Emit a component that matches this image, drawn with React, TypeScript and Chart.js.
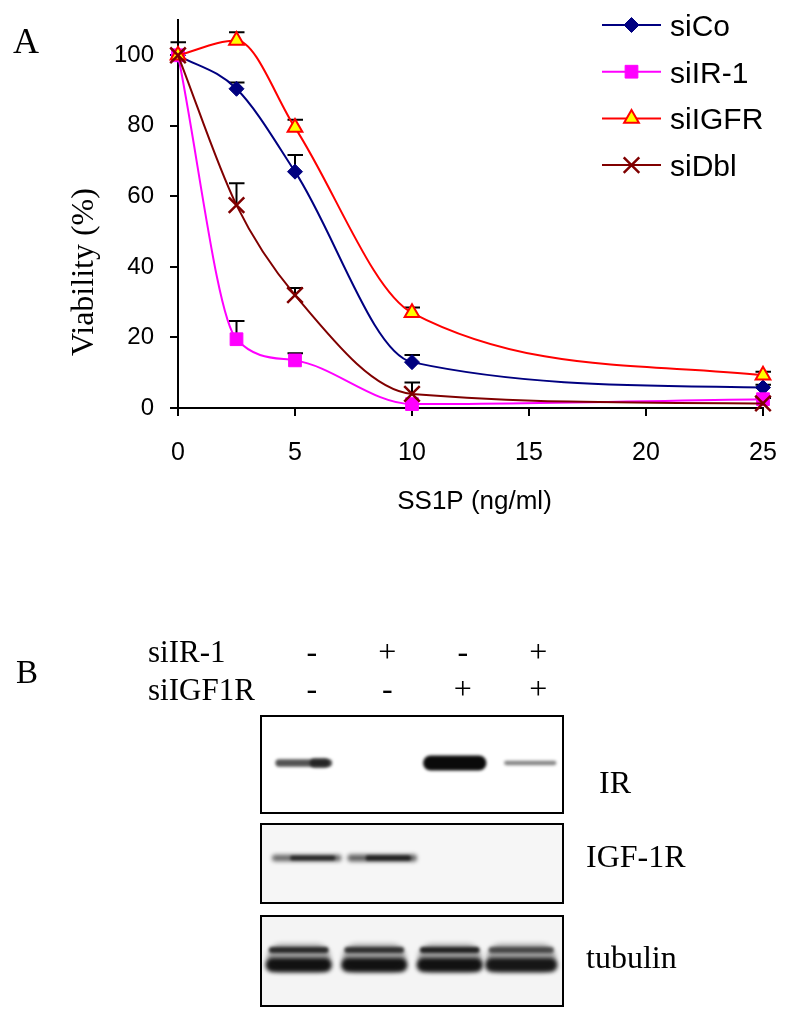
import React, { useEffect, useRef } from 'react';
import { Chart, registerables } from 'chart.js';
import { drawPoint } from 'chart.js/helpers';

Chart.register(...registerables);

// ---------- Panel A data ----------
const doses = [0, 2.5, 5, 10, 25];
const seriesNames = ['siCo', 'siIR-1', 'siIGFR', 'siDbl'];
const siCo = [100, 90.5, 67, 13, 5.8];
const siIR1 = [100, 19.5, 13.5, 1.1, 2.5];
const siIGFR = [100, 104.2, 79.5, 27, 9.3];
const siDbl = [100, 57.5, 32, 4, 1.3];
const siCoErr = [3.7, 1.8, 4.7, 2, 0.8];
const siIR1Err = [0, 5.2, 2, 0, 0.3];
const siIGFRErr = [0, 2.3, 2.2, 1.5, 1];
const siDblErr = [0, 6.2, 2, 3.2, 0];
const xTicks = [0, 5, 10, 15, 20, 25];
const yTicks = [0, 20, 40, 60, 80, 100];

// ---------- Panel B data ----------
const laneIndex = [0, 1, 2, 3];
const siIR1Row = ['-', '+', '-', '+'];
const siIGF1RRow = ['-', '-', '+', '+'];
const irBand = [0.6, 0, 1, 0.33];
const igf1rBand = [0.62, 0.68, 0, 0];
const tubulinUpper = [0.8, 0.75, 0.85, 0.6];
const tubulinLower = [0.95, 0.95, 0.95, 0.92];
const blotNames = ['IR', 'IGF-1R', 'tubulin'];

const SANS = '"Liberation Sans", Arial, sans-serif';
const SERIF = '"Liberation Serif", "Times New Roman", serif';

const styles = [
  { color: '#000080', pointStyle: 'rectRot', radius: 7.5, bg: '#000080', bw: 1, order: 3 },
  { color: '#FF00FF', pointStyle: 'rect', radius: 9, bg: '#FF00FF', bw: 1, order: 2 },
  { color: '#FF0000', pointStyle: 'triangle', radius: 8.5, bg: '#FFFF00', bw: 2, order: 1 },
  { color: '#800000', pointStyle: 'crossRot', radius: 11, bg: '#800000', bw: 2.5, order: 0 },
];
const seriesValues = [siCo, siIR1, siIGFR, siDbl];
const seriesErr = [siCoErr, siIR1Err, siIGFRErr, siDblErr];

const errorBarPlugin = {
  id: 'errorBars',
  beforeDatasetsDraw(chart: any) {
    const { ctx, scales } = chart;
    const x = scales.x, y = scales.y;
    ctx.save();
    ctx.strokeStyle = '#000';
    ctx.lineWidth = 2;
    seriesValues.forEach((vals, s) => {
      vals.forEach((v, i) => {
        const e = seriesErr[s][i];
        if (!e) return;
        const px = x.getPixelForValue(doses[i]);
        const py = y.getPixelForValue(v);
        const pt = y.getPixelForValue(v + e);
        ctx.beginPath();
        ctx.moveTo(px, py);
        ctx.lineTo(px, pt);
        ctx.moveTo(px - 7.5, pt);
        ctx.lineTo(px + 8, pt);
        ctx.stroke();
      });
    });
    ctx.restore();
  },
};

const decorPluginA = {
  id: 'decorA',
  afterDraw(chart: any) {
    const { ctx, chartArea } = chart;
    ctx.save();
    ctx.fillStyle = '#000';
    ctx.font = `36px ${SERIF}`;
    ctx.textAlign = 'left';
    ctx.textBaseline = 'alphabetic';
    ctx.fillText('A', 13, 53);
    ctx.save();
    ctx.translate(chartArea.left - 85, 272);
    ctx.rotate(-Math.PI / 2);
    ctx.font = `32px ${SERIF}`;
    ctx.textAlign = 'center';
    ctx.fillText('Viability (%)', 0, 0);
    ctx.restore();
    ctx.font = `26px ${SANS}`;
    ctx.textAlign = 'center';
    ctx.fillText('SS1P (ng/ml)', (chartArea.left + chartArea.right) / 2 + 4, chartArea.bottom + 101);
    const lx0 = 602, lx1 = 661, ly0 = 25, lstep = 46.7;
    seriesNames.forEach((name, i) => {
      const st = styles[i];
      const yy = ly0 + i * lstep;
      ctx.strokeStyle = st.color;
      ctx.lineWidth = 2;
      ctx.beginPath();
      ctx.moveTo(lx0, yy);
      ctx.lineTo(lx1, yy);
      ctx.stroke();
      ctx.fillStyle = st.bg;
      ctx.strokeStyle = st.color;
      ctx.lineWidth = st.bw;
      drawPoint(ctx, { pointStyle: st.pointStyle, radius: st.radius, rotation: 0, borderWidth: st.bw } as any, (lx0 + lx1) / 2, yy);
      ctx.fillStyle = '#000';
      ctx.font = `30px ${SANS}`;
      ctx.textAlign = 'left';
      ctx.textBaseline = 'alphabetic';
      ctx.fillText(name, 670, yy + 11);
    });
    ctx.restore();
  },
};

// ---------- Panel B drawing ----------
const BOXES = [
  { top: 0, h: 97, bg: '#ffffff' },
  { top: 108, h: 79, bg: '#f6f6f6' },
  { top: 200, h: 90, bg: '#f4f4f4' },
];

function band(ctx: any, cx: number, cy: number, w: number, t: number, a: number, blur: number) {
  ctx.save();
  ctx.filter = `blur(${blur}px)`;
  ctx.fillStyle = `rgba(10,10,10,${a})`;
  ctx.beginPath();
  const r = t / 2;
  ctx.moveTo(cx - w / 2 + r, cy - r);
  ctx.lineTo(cx + w / 2 - r, cy - r);
  ctx.arc(cx + w / 2 - r, cy, r, -Math.PI / 2, Math.PI / 2);
  ctx.lineTo(cx - w / 2 + r, cy + r);
  ctx.arc(cx - w / 2 + r, cy, r, Math.PI / 2, (3 * Math.PI) / 2);
  ctx.closePath();
  ctx.fill();
  ctx.restore();
}

const blotPlugin = {
  id: 'blot',
  afterDraw(chart: any) {
    const { ctx, chartArea, scales } = chart;
    const x = scales.x;
    const top = chartArea.top;
    const L = chartArea.left, R = chartArea.right;
    const laneW = x.getPixelForValue(1) - x.getPixelForValue(0);
    ctx.save();
    BOXES.forEach((b) => {
      ctx.fillStyle = b.bg;
      ctx.fillRect(L, top + b.top, R - L, b.h);
    });
    // IR bands
    laneIndex.forEach((li) => {
      const i = irBand[li];
      if (!i) return;
      const cx = x.getPixelForValue(li + 0.5) + 5;
      const t = 3 + 12 * i * i;
      const w = laneW * (0.62 + 0.22 * i);
      band(ctx, cx, top + 47, w, t, Math.min(1, 0.25 + 0.75 * i), 1.8);
      if (i < 0.9 && i > 0.5) band(ctx, cx + w * 0.28, top + 47, w * 0.35, t + 2, 0.65, 1.8);
    });
    // IGF-1R bands
    laneIndex.forEach((li) => {
      const i = igf1rBand[li];
      if (!i) return;
      const cx = x.getPixelForValue(li + 0.5) + 8;
      band(ctx, cx, top + 142, laneW * 0.92, 2 + 7 * i, 0.3 + 0.5 * i, 2);
      band(ctx, cx + 6, top + 142, laneW * 0.6, 1 + 6 * i, 0.45 + 0.5 * i, 1.8);
    });
    // tubulin bands
    laneIndex.forEach((li) => {
      const cx = x.getPixelForValue(li + 0.5) + (li === 3 ? -4 : 0);
      const w = laneW * 0.88 + (li === 3 ? 6 : 0);
      band(ctx, cx, top + 242, w * 0.95, 28, 0.35, 2.5);
      band(ctx, cx, top + 234, w * 0.9, 6, tubulinUpper[li], 1.8);
      band(ctx, cx, top + 249, w, 14, tubulinLower[li], 2.2);
    });
    ctx.strokeStyle = '#000';
    ctx.lineWidth = 2;
    BOXES.forEach((b) => {
      ctx.strokeRect(L, top + b.top, R - L, b.h);
    });
    ctx.fillStyle = '#000';
    ctx.textBaseline = 'alphabetic';
    ctx.textAlign = 'left';
    ctx.font = `33px ${SERIF}`;
    ctx.fillText('B', 16, top - 33);
    ctx.font = `31px ${SERIF}`;
    ctx.fillText('siIR-1', 148, top - 54);
    ctx.fillText('siIGF1R', 148, top - 16);
    ctx.textAlign = 'center';
    ctx.font = `32px ${SERIF}`;
    laneIndex.forEach((li) => {
      const cx = x.getPixelForValue(li + 0.5) + 13;
      ctx.fillText(siIR1Row[li], cx, top - 54);
      ctx.fillText(siIGF1RRow[li], cx, top - 17);
    });
    ctx.textAlign = 'left';
    ctx.fillText(blotNames[0], R + 36, top + 77);
    ctx.fillText(blotNames[1], R + 23, top + 151);
    ctx.fillText(blotNames[2], R + 23, top + 252);
    ctx.restore();
  },
};

function zeroPad(s: any) {
  s.paddingTop = 0;
  s.paddingBottom = 0;
  s.paddingLeft = 0;
  s.paddingRight = 0;
}

export default function App() {
  const refA = useRef<HTMLCanvasElement>(null);
  const refB = useRef<HTMLCanvasElement>(null);

  useEffect(() => {
    document.body.style.margin = '0';
    const datasets = seriesNames.map((name, s) => ({
      label: name,
      data: doses.map((d, i) => ({ x: d, y: seriesValues[s][i] })),
      borderColor: styles[s].color,
      borderWidth: 2,
      backgroundColor: styles[s].bg,
      pointStyle: styles[s].pointStyle,
      pointRadius: styles[s].radius,
      pointBackgroundColor: styles[s].bg,
      pointBorderColor: styles[s].color,
      pointBorderWidth: styles[s].bw,
      cubicInterpolationMode: 'monotone',
      fill: false,
      clip: false,
      order: styles[s].order,
    }));
    const chartA = new Chart(refA.current!, {
      type: 'line',
      data: { datasets } as any,
      plugins: [errorBarPlugin, decorPluginA],
      options: {
        animation: false,
        responsive: false,
        events: [],
        layout: { padding: { left: 0, right: 28, top: 20, bottom: 52 } },
        plugins: { legend: { display: false }, tooltip: { enabled: false } },
        scales: {
          x: {
            type: 'linear',
            min: 0,
            max: 25,
            afterBuildTicks: (s: any) => { s.ticks = xTicks.map((v) => ({ value: v })); },
            afterFit: (s: any) => { s.height = 100; zeroPad(s); },
            grid: { drawOnChartArea: false, drawTicks: true, tickLength: 8, color: '#000', lineWidth: 2 },
            border: { display: true, color: '#000', width: 2 },
            ticks: { color: '#000', font: { family: SANS, size: 25 }, padding: 22, maxRotation: 0 },
          },
          y: {
            type: 'linear',
            min: 0,
            max: 110,
            afterBuildTicks: (s: any) => { s.ticks = yTicks.map((v) => ({ value: v })); },
            afterFit: (s: any) => { s.width = 178; zeroPad(s); },
            grid: { drawOnChartArea: false, drawTicks: true, tickLength: 8, color: '#000', lineWidth: 2 },
            border: { display: true, color: '#000', width: 2 },
            ticks: { color: '#000', font: { family: SANS, size: 24 }, padding: 16 },
          },
        },
      } as any,
    });

    const chartB = new Chart(refB.current!, {
      type: 'scatter',
      data: { datasets: [{ data: [] }] },
      plugins: [blotPlugin],
      options: {
        animation: false,
        responsive: false,
        events: [],
        layout: { padding: { left: 261, right: 228, top: 156, bottom: 14 } },
        plugins: { legend: { display: false }, tooltip: { enabled: false } },
        scales: {
          x: { type: 'linear', min: 0, max: 4, display: false },
          y: { type: 'linear', min: 0, max: 1, display: false },
        },
      } as any,
    });
    return () => {
      chartA.destroy();
      chartB.destroy();
    };
  }, []);

  return (
    <div style={{ position: 'absolute', left: 0, top: 0, width: 791, height: 1020, background: '#fff' }}>
      <canvas ref={refA} width={791} height={560} style={{ position: 'absolute', left: 0, top: 0, width: 791, height: 560 }} />
      <canvas ref={refB} width={791} height={460} style={{ position: 'absolute', left: 0, top: 560, width: 791, height: 460 }} />
    </div>
  );
}
